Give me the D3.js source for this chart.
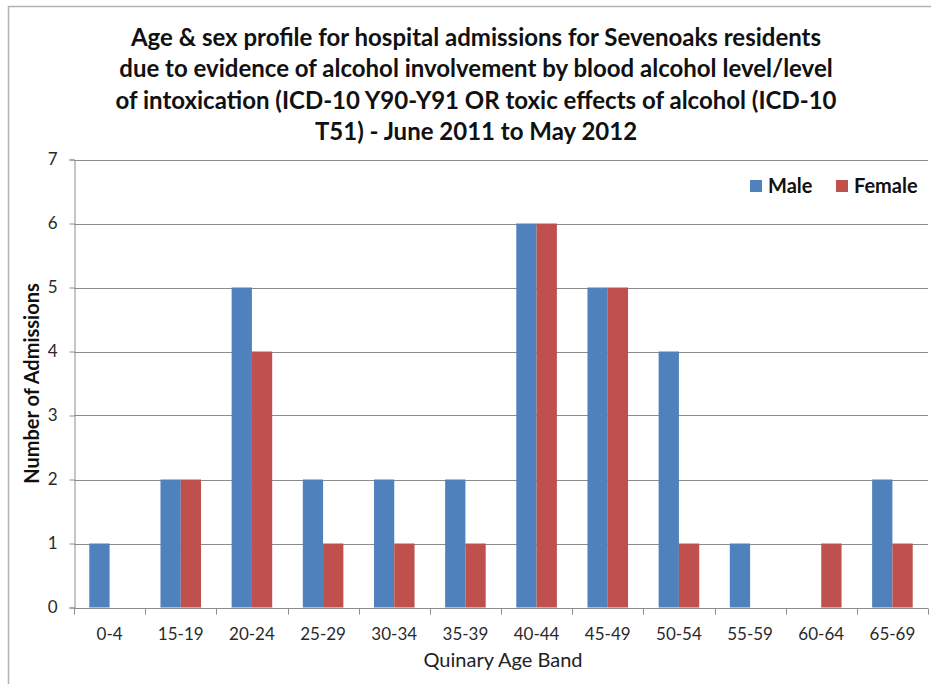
<!DOCTYPE html>
<html>
<head>
<meta charset="utf-8">
<script src="https://cdn.jsdelivr.net/npm/d3@7"></script>
<style>
  body { margin: 0; background: #fff; }
  svg { display: block; font-family: Lato, "Open Sans", sans-serif; }
</style>
</head>
<body>
<svg id="chart"></svg>
<script>
const categories = ["0-4", "15-19", "20-24", "25-29", "30-34", "35-39", "40-44", "45-49", "50-54", "55-59", "60-64", "65-69"];
const seriesNames = ["Male", "Female"];
const maleValues = [1, 2, 5, 2, 2, 2, 6, 5, 4, 1, 0, 2];
const femaleValues = [0, 2, 4, 1, 1, 1, 6, 5, 1, 0, 1, 1];
const yTicks = [0, 1, 2, 3, 4, 5, 6, 7];
const titleLines = [
    "Age & sex profile for hospital admissions for Sevenoaks residents",
    "due to evidence of alcohol involvement by blood alcohol level/level",
    "of intoxication (ICD-10 Y90-Y91 OR toxic effects of alcohol (ICD-10",
    "T51) - June 2011 to May 2012"
];

const width = 931, height = 684;
const margin = { top: 159.5, right: 3, bottom: 76.5, left: 74 };
const colors = { Male: "#4F81BD", Female: "#C0504D" };

const svg = d3.select("#chart").attr("width", width).attr("height", height);

// outer chart border (cropped at right and bottom)
svg.append("rect")
    .attr("x", 8.5).attr("y", 6.5)
    .attr("width", width + 20).attr("height", height + 20)
    .attr("fill", "none").attr("stroke", "#b3b3b3").attr("stroke-width", 1.5);

const x = d3.scaleBand()
    .domain(categories)
    .range([margin.left, width - margin.right])
    .paddingInner(0.43).paddingOuter(0.215);

const xBand = d3.scaleBand()
    .domain(categories)
    .range([margin.left, width - margin.right]);

const xSub = d3.scaleBand().domain(seriesNames).range([0, x.bandwidth()]);

const y = d3.scaleLinear().domain([0, 7]).range([height - margin.bottom, margin.top]);

// gridlines
svg.append("g")
    .selectAll("line")
    .data(yTicks.filter(d => d > 0))
    .join("line")
    .attr("x1", margin.left).attr("x2", width - margin.right)
    .attr("y1", d => Math.round(y(d)) + 0.5).attr("y2", d => Math.round(y(d)) + 0.5)
    .attr("stroke", "#8c8c8c").attr("stroke-width", 1);

// bars
const rows = categories.map((c, i) => ({ cat: c, Male: maleValues[i], Female: femaleValues[i] }));
svg.append("g")
    .selectAll("g")
    .data(rows)
    .join("g")
    .attr("transform", d => `translate(${x(d.cat)},0)`)
    .selectAll("rect")
    .data(d => seriesNames.map(s => ({ s, v: d[s] })))
    .join("rect")
    .attr("x", d => xSub(d.s))
    .attr("y", d => y(d.v))
    .attr("width", xSub.bandwidth())
    .attr("height", d => y(0) - y(d.v))
    .attr("fill", d => colors[d.s]);

// y axis
const yAxis = svg.append("g")
    .attr("transform", `translate(${margin.left + 0.5},0)`)
    .call(d3.axisLeft(y).tickValues(yTicks).tickSize(5).tickPadding(12).tickFormat(d3.format("d")));
yAxis.select(".domain").attr("stroke", "#8c8c8c");
yAxis.selectAll(".tick line").attr("stroke", "#8c8c8c");
yAxis.selectAll(".tick text").attr("font-size", 17).attr("fill", "#2a2a2a").attr("font-family", "Lato, sans-serif");

// x axis with ticks at band boundaries
const xAxisG = svg.append("g").attr("transform", `translate(0,${Math.round(y(0)) + 0.5})`);
xAxisG.append("line")
    .attr("x1", margin.left).attr("x2", width - margin.right)
    .attr("stroke", "#8c8c8c");
xAxisG.selectAll("line.tk")
    .data(categories.concat(["end"]))
    .join("line")
    .attr("class", "tk")
    .attr("x1", (d, i) => Math.round(margin.left + i * xBand.step()) + 0.5)
    .attr("x2", (d, i) => Math.round(margin.left + i * xBand.step()) + 0.5)
    .attr("y1", 0).attr("y2", 6)
    .attr("stroke", "#8c8c8c");
xAxisG.selectAll("text")
    .data(categories)
    .join("text")
    .attr("x", d => xBand(d) + xBand.bandwidth() / 2)
    .attr("y", 31)
    .attr("text-anchor", "middle")
    .attr("font-size", 17).attr("fill", "#2a2a2a")
    .text(d => d);

// title
svg.append("g")
    .selectAll("text")
    .data(titleLines)
    .join("text")
    .attr("x", 476)
    .attr("y", (d, i) => 46 + i * 31.3)
    .attr("text-anchor", "middle")
    .attr("font-size", 24).attr("font-weight", "bold").attr("fill", "#111")
    .text(d => d);

// axis titles
svg.append("text")
    .attr("transform", `translate(39,${(y(0) + y(7)) / 2}) rotate(-90)`)
    .attr("text-anchor", "middle")
    .attr("font-size", 20).attr("font-weight", "bold").attr("fill", "#111")
    .text("Number of Admissions");

svg.append("text")
    .attr("x", 503).attr("y", 667)
    .attr("text-anchor", "middle")
    .attr("font-size", 20).attr("fill", "#222")
    .text("Quinary Age Band");

// legend
const legend = svg.append("g").attr("transform", "translate(750,186)");
const legendX = { Male: 0, Female: 86 };
seriesNames.forEach(s => {
    const g = legend.append("g").attr("transform", `translate(${legendX[s]},0)`);
    g.append("rect").attr("x", 0).attr("y", -6).attr("width", 12).attr("height", 12).attr("fill", colors[s]);
    g.append("text").attr("x", 18).attr("y", 7)
        .attr("font-size", 20).attr("font-weight", "bold").attr("fill", "#111")
        .text(s);
});
</script>
</body>
</html>
